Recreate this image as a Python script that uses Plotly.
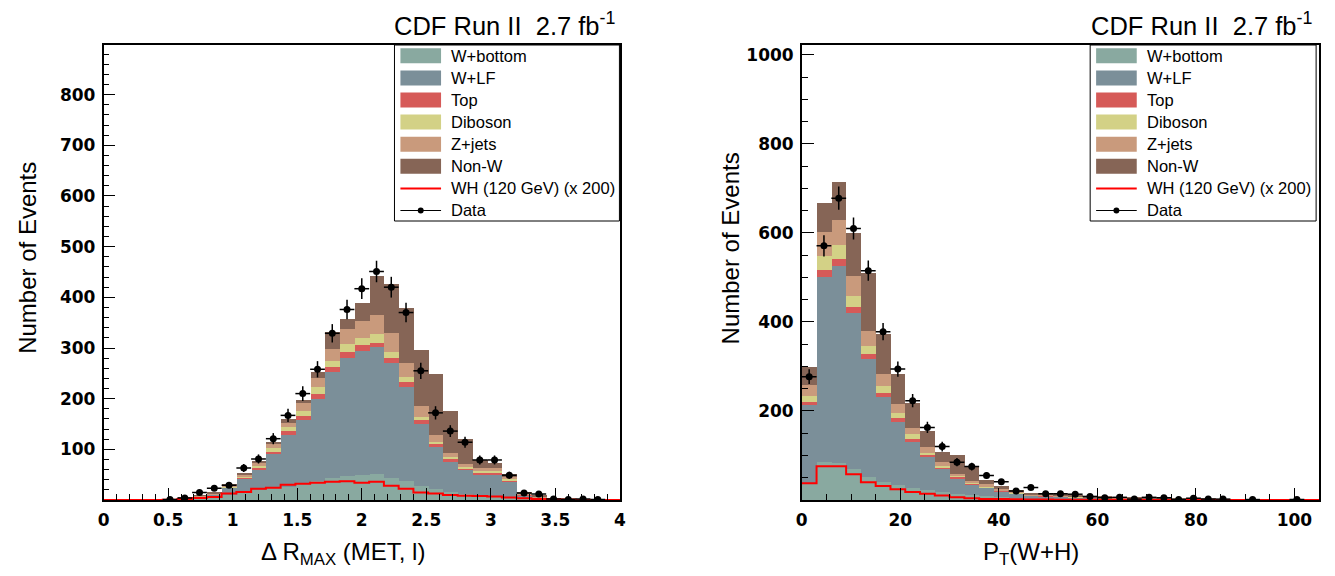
import numpy as np
import plotly.graph_objects as go

W, H = 1335, 576

# ---- binning (35 bins in both panels) ----
n_bins = 35
dr_range = [0.0, 4.0]
pt_range = [0.0, 105.0]

procs = ['W+bottom', 'W+LF', 'Top', 'Diboson', 'Z+jets', 'Non-W']
proc_colors = {'W+bottom': '#89a9a0',
               'W+LF': '#7b8f99',
               'Top': '#d65a58',
               'Diboson': '#d3d186',
               'Z+jets': '#c99a7c',
               'Non-W': '#866556'}

# ---- left panel: Delta R_MAX(MET, l) ----
dr_wbottom = [0, 0, 0, 0, 0.3, 1, 2, 4, 10, 15, 20, 25, 26, 34, 37, 44, 47, 50, 52, 44,
              37, 27, 21, 16, 12, 9, 7, 5, 2, 1, 0.3, 0.2, 0.1, 0.1, 0]
dr_wlf = [0, 0, 0, 0.1, 0.6, 2, 4, 6, 14, 27, 41, 65, 103, 123, 163, 208, 234, 244, 249, 227,
          187, 123, 84, 60.5, 48, 41, 44, 32, 7, 3.5, 1.1, 0.8, 0.6, 0.4, 0.2]
dr_top = [0, 0, 0, 0, 0.1, 0.3, 0.5, 0.8, 1.5, 2, 3, 5.5, 7, 8, 10, 10, 12, 11, 9, 9,
          8, 7, 5, 3.5, 3, 4, 3, 2, 1, 0.5, 0.2, 0.1, 0.1, 0, 0]
dr_diboson = [0, 0, 0, 0, 0.1, 0.3, 0.5, 0.7, 1.5, 2.5, 3.5, 6.5, 9, 11.5, 13, 13, 14, 15, 17, 13,
              10, 6, 4, 4, 3, 3, 3, 3, 1, 0.5, 0.2, 0.1, 0.1, 0.1, 0]
dr_zjets = [0, 0, 0, 0, 0.2, 0.6, 1, 1.5, 2, 3.5, 5.5, 8, 7, 15, 17.5, 24, 30, 34, 38, 37,
            28, 22, 15, 9.5, 5, 6, 6, 3, 1, 0.5, 0.2, 0.3, 0.2, 0.1, 0.1]
dr_nonw = [0, 0, 0, 0.1, 0.3, 0.8, 1, 2, 2, 2, 4, 4, 8, 6.5, 11.5, 33, 20, 35, 77, 97,
           109, 111, 120, 81.5, 50, 16, 11, 7, 4, 2.5, 1, 0.5, 0.4, 0.3, 0.2]
dr_wh = [0, 0, 0, 0, 0.5, 2, 4, 6, 13, 16, 22, 24, 30, 32, 34, 36, 37, 34, 36, 28,
         22, 15, 13, 10, 8.5, 8, 7, 5, 3.5, 2, 1, 0.5, 0, 0, 0]
dr_data = [None, None, None, None, 1, 4, 15, 23, 29, 63, 81, 121, 167, 210, 258, 329, 376, 417, 451, 420,
           370, 255, 172, 136, 114, 79, 79, 49, 14, 12, 2, 1, 2, 1, None]

# ---- right panel: P_T(W+H) ----
pt_wbottom = [37.5, 85, 82, 69, 52, 41, 34, 27, 22, 17, 14, 12, 9, 6, 4.5, 3, 3, 2.5, 2, 1.5,
              1.2, 1, 0.8, 0.8, 0.6, 0.5, 0.4, 0.4, 0.3, 0.3, 0.2, 0.2, 0.1, 0.1, 0.1]
pt_wlf = [175, 417, 444, 350, 265, 190, 142, 104, 74, 53, 33, 22, 18, 13, 9.5, 6, 5.5, 4.5, 4, 3,
          2.6, 2.2, 1.8, 1.8, 1.5, 1.3, 1.1, 0.9, 0.7, 0.6, 0.5, 0.4, 0.4, 0.3, 0.2]
pt_top = [7, 15, 15, 14, 11, 10, 9, 7, 5, 3, 5, 3, 2, 1.5, 1, 0.8, 1, 1, 0.5, 0.5,
          0.4, 0.3, 0.3, 0.2, 0.2, 0.2, 0.2, 0.1, 0.1, 0.1, 0.1, 0.1, 0, 0, 0]
pt_diboson = [14.5, 31, 31, 25, 17, 15, 11, 10, 5, 4, 2, 3, 2, 1.5, 1, 0.7, 0.5, 0.5, 0.5, 0.3,
              0.3, 0.3, 0.2, 0.2, 0.2, 0.2, 0.1, 0.1, 0.1, 0.1, 0.1, 0.1, 0.1, 0, 0]
pt_zjets = [24, 55, 57, 45, 35, 27, 19, 14, 12, 9, 4, 3, 4, 3, 2, 1.5, 2, 1.5, 1.5, 0.9,
            0.8, 0.7, 0.6, 0.6, 0.5, 0.4, 0.4, 0.3, 0.3, 0.2, 0.2, 0.1, 0.1, 0.1, 0.1]
pt_nonw = [40, 64, 86, 96, 129, 90, 68, 55, 37, 21, 42, 32, 10, 6.5, 4.5, 2, 3, 3, 2.5, 1.8,
           1.7, 1.5, 1.3, 1.4, 1, 0.9, 0.8, 0.7, 0.5, 0.5, 0.4, 0.3, 0.3, 0.3, 0.2]
pt_wh = [37.5, 76, 76, 58, 40, 31.5, 24, 18, 14, 10, 6, 4, 2.5, 2, 1.5, 1.2, 1, 0.8, 0.6, 0.5,
         0.4, 0.3, 0.3, 0.2, 0.2, 0.1, 0.1, 0.1, 0.1, 0, 0, 0, 0, 0, 0]
pt_data = [277, 571, 678, 610, 515, 378, 294, 223, 163, 120, 85, 75, 55, 41, 20, 28, 14, 14, 13, 8,
           5, 6, 2, 6, 5, 1, 4, 2, 2, None, 1, None, None, 1, None]

font = 'Liberation Sans, Arial, Helvetica, sans-serif'
tick_font = 'DejaVu Sans, sans-serif'


def px(x):
    return x / W


def py(y):
    return 1 - y / H


def add_panel(fig, xr, stack, wh, data, xa, ya):
    edges = np.linspace(xr[0], xr[1], n_bins + 1)
    centers = 0.5 * (edges[:-1] + edges[1:])
    bw = edges[1] - edges[0]
    for name, vals in zip(procs, stack):
        fig.add_trace(go.Bar(x=centers, y=vals, width=bw, name=name,
                             marker=dict(color=proc_colors[name], line=dict(width=0)),
                             xaxis=xa, yaxis=ya, showlegend=False))
    # WH signal drawn as a step histogram
    fig.add_trace(go.Scatter(x=edges, y=list(wh) + [wh[-1]], mode='lines',
                             line=dict(color='#ff0000', width=2, shape='hv'),
                             xaxis=xa, yaxis=ya, showlegend=False))
    dx = [c for c, d in zip(centers, data) if d is not None]
    dy = [d for d in data if d is not None]
    fig.add_trace(go.Scatter(x=dx, y=dy, mode='markers',
                             marker=dict(color='black', size=7),
                             error_x=dict(type='constant', value=bw / 2, color='black',
                                          thickness=1.5, width=0),
                             error_y=dict(type='data', array=np.sqrt(dy), color='black',
                                          thickness=1.5, width=0),
                             xaxis=xa, yaxis=ya, showlegend=False))


fig = go.Figure()
add_panel(fig, dr_range, [dr_wbottom, dr_wlf, dr_top, dr_diboson, dr_zjets, dr_nonw],
          dr_wh, dr_data, 'x', 'y')
add_panel(fig, pt_range, [pt_wbottom, pt_wlf, pt_top, pt_diboson, pt_zjets, pt_nonw],
          pt_wh, pt_data, 'x2', 'y2')

frame_top, frame_bot = 45, 500
axis_common = dict(showline=True, mirror=True, linecolor='black', linewidth=1.5,
                   ticks='inside', ticklen=12, tickwidth=1, tickcolor='black',
                   showgrid=False, zeroline=False,
                   tickfont=dict(family=tick_font, size=17, color='black', weight='bold'))

fig.update_layout(
    width=W, height=H, barmode='stack', bargap=0,
    plot_bgcolor='white', paper_bgcolor='white',
    margin=dict(l=0, r=0, t=0, b=0), showlegend=False,
    xaxis=dict(domain=[px(98.5), px(619.5)], range=dr_range, anchor='y',
               tickmode='linear', tick0=0, dtick=0.5, ticklabelstandoff=4,
               minor=dict(ticks='inside', ticklen=6, dtick=0.1, tick0=0, tickcolor='black'),
               **axis_common),
    yaxis=dict(domain=[py(frame_bot), py(frame_top)], range=[0, 898], anchor='x',
               tickmode='array', tickvals=[100, 200, 300, 400, 500, 600, 700, 800],
               ticklabelstandoff=3,
               minor=dict(ticks='inside', ticklen=6, tickmode='linear', dtick=20, tick0=0,
                          tickcolor='black'),
               **axis_common),
    xaxis2=dict(domain=[px(803), px(1325)], range=pt_range, anchor='y2',
                tickmode='linear', tick0=0, dtick=20, ticklabelstandoff=4,
                minor=dict(ticks='inside', ticklen=6, dtick=5, tick0=0, tickcolor='black'),
                **axis_common),
    yaxis2=dict(domain=[py(frame_bot), py(frame_top)], range=[0, 1022], anchor='x2',
                tickmode='array', tickvals=[200, 400, 600, 800, 1000],
                ticklabelstandoff=3,
                minor=dict(ticks='inside', ticklen=6, tickmode='linear', dtick=50, tick0=0,
                           tickcolor='black'),
                **axis_common),
)

shapes = []
annotations = []

# axis titles and CDF labels
annotations += [
    dict(text='Number of Events', x=px(21), y=py(258), textangle=-90),
    dict(text='Number of Events', x=px(731), y=py(248), textangle=-90),
    dict(text='\u0394 R<sub>MAX</sub> (MET, l)', x=px(340), y=py(553)),
    dict(text='P<sub>T</sub>(W+H)', x=px(1034), y=py(553)),
]
for a in annotations:
    a.update(xref='paper', yref='paper', showarrow=False, xanchor='center', yanchor='middle',
             font=dict(family=font, size=24, color='black'))

for right_px in (617, 1320):
    annotations.append(dict(text='CDF Run II\u00a0 2.7 fb<sup>-1</sup>', x=px(right_px), y=py(24),
                            xref='paper', yref='paper', xanchor='right', yanchor='middle',
                            showarrow=False, font=dict(family=font, size=25.5, color='black')))

# hand-drawn ROOT style legends
legend_rows = procs + ['WH (120 GeV) (x 200)', 'Data']
for box_l, box_r in ((392, 619), (1094, 1322)):
    shapes.append(dict(type='rect', xref='paper', yref='paper',
                       x0=px(box_l), x1=px(box_r), y0=py(221), y1=py(frame_top),
                       line=dict(color='black', width=1), fillcolor='white', layer='above'))
    sw_l, sw_r = box_l + 6, box_l + 47
    for i, name in enumerate(legend_rows):
        yc = 55.8 + 22.1 * i
        if name in proc_colors:
            shapes.append(dict(type='rect', xref='paper', yref='paper',
                               x0=px(sw_l), x1=px(sw_r), y0=py(yc + 7.5), y1=py(yc - 7.5),
                               line=dict(width=0), fillcolor=proc_colors[name], layer='above'))
        elif name == 'Data':
            shapes.append(dict(type='line', xref='paper', yref='paper',
                               x0=px(sw_l), x1=px(sw_r), y0=py(yc), y1=py(yc),
                               line=dict(color='black', width=1.2), layer='above'))
            xm = (sw_l + sw_r) / 2
            shapes.append(dict(type='circle', xref='paper', yref='paper',
                               x0=px(xm - 3), x1=px(xm + 3), y0=py(yc + 3), y1=py(yc - 3),
                               line=dict(width=0), fillcolor='black', layer='above'))
        else:
            shapes.append(dict(type='line', xref='paper', yref='paper',
                               x0=px(sw_l), x1=px(sw_r), y0=py(yc), y1=py(yc),
                               line=dict(color='#ff0000', width=2), layer='above'))
        annotations.append(dict(text=name, x=px(box_l + 55), y=py(yc), xref='paper', yref='paper',
                                xanchor='left', yanchor='middle', showarrow=False,
                                font=dict(family=font, size=16.5, color='black')))

fig.update_layout(shapes=shapes, annotations=annotations)
# drop the browser's default 8px body margin so the figure sits at the window origin
fig.write_html("out.html", config={'displayModeBar': False},
               post_script="document.body.style.margin='0px';")
